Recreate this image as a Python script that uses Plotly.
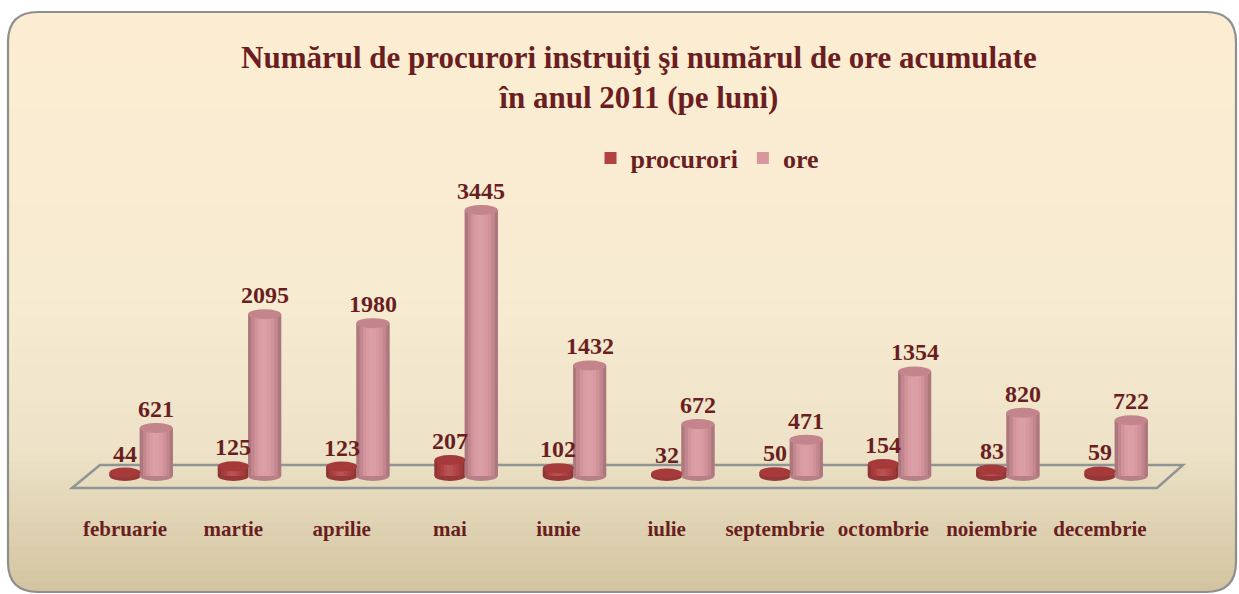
import plotly.graph_objects as go

# ---------------- data ----------------
months = ["februarie", "martie", "aprilie", "mai", "iunie", "iulie",
          "septembrie", "octombrie", "noiembrie", "decembrie"]
procurori = [44, 125, 123, 207, 102, 32, 50, 154, 83, 59]
ore = [621, 2095, 1980, 3445, 1432, 672, 471, 1354, 820, 722]

TITLE = "Numărul de procurori instruiţi şi numărul de ore acumulate<br>în anul 2011 (pe luni)"
TEXT_COLOR = "#6B1E22"
FONT = "Liberation Serif"

# ---------------- geometry (styling) ----------------
W, H = 1239, 594
L_M, R_M, T_M, B_M = 40, 39, 140, 94
PW, PH = W - L_M - R_M, H - T_M - B_M
PX_PER_CAT = 108.33
X0_PX = 125
BASE_PX = 476
K = 0.0772  # px per value unit
x_range = [(L_M - X0_PX) / PX_PER_CAT, (W - R_M - X0_PX) / PX_PER_CAT]
y_range = [(BASE_PX - (H - B_M)) / K, (BASE_PX - T_M) / K]
CAP = 5 / K  # half height of ellipse caps in value units


def pp(x, y):
    """pixel -> paper coords"""
    return (x - L_M) / PW, (H - B_M - y) / PH


def mix(c, f):
    r, g, b = c
    if f >= 1:
        t = f - 1
        return "rgb(%d,%d,%d)" % (r + (255 - r) * t, g + (255 - g) * t, b + (255 - b) * t)
    return "rgb(%d,%d,%d)" % (r * f, g * f, b * f)


series = [
    dict(name="procurori", vals=procurori, off=-0.143, w=0.286,
         base=(178, 66, 66), cap=(166, 58, 58)),
    dict(name="ore", vals=ore, off=0.136, w=0.305,
         base=(216, 150, 158), cap=(196, 132, 140)),
]
shade = [0.80, 0.90, 0.98, 1.06, 1.10, 1.08, 1.03, 0.97, 0.90, 0.80]

xs = list(range(len(months)))
fig = go.Figure()
shapes = []

# background gradient bands
stops = [(12, (253, 238, 210)), (300, (247, 235, 210)), (450, (238, 227, 200)), (594, (211, 196, 160))]
BL, BT, BR, BB, RAD = 8, 12, 1236, 592, 30


def bg_col(y):
    for (y0, c0), (y1, c1) in zip(stops[:-1], stops[1:]):
        if y0 <= y <= y1:
            t = (y - y0) / (y1 - y0)
            return "rgb(%d,%d,%d)" % tuple(c0[i] + (c1[i] - c0[i]) * t for i in range(3))
    return "rgb(%d,%d,%d)" % stops[-1][1]


step = 6
y = BT
while y < BB:
    x0, y0 = pp(BL, y)
    x1, y1 = pp(BR, min(y + step + 1, BB))
    shapes.append(dict(type="rect", xref="paper", yref="paper", x0=x0, x1=x1, y0=y0, y1=y1,
                       fillcolor=bg_col(y + step / 2), line=dict(width=0), layer="below"))
    y += step


def path_px(points_cmds):
    out = []
    for cmd, pts in points_cmds:
        coords = []
        for (a, b) in pts:
            xa, yb = pp(a, b)
            coords.append("%.5f,%.5f" % (xa, yb))
        out.append(cmd + " ".join(coords))
    return " ".join(out)


# white corner masks
corners = [
    [("M", [(BL - 2, BT - 2)]), ("L", [(BL + RAD, BT - 2)]), ("L", [(BL + RAD, BT)]), ("Q", [(BL, BT), (BL, BT + RAD)]), ("L", [(BL - 2, BT + RAD)]), ("Z", [])],
    [("M", [(BR + 2, BT - 2)]), ("L", [(BR - RAD, BT - 2)]), ("L", [(BR - RAD, BT)]), ("Q", [(BR, BT), (BR, BT + RAD)]), ("L", [(BR + 2, BT + RAD)]), ("Z", [])],
    [("M", [(BL - 2, BB + 2)]), ("L", [(BL + RAD, BB + 2)]), ("L", [(BL + RAD, BB)]), ("Q", [(BL, BB), (BL, BB - RAD)]), ("L", [(BL - 2, BB - RAD)]), ("Z", [])],
    [("M", [(BR + 2, BB + 2)]), ("L", [(BR - RAD, BB + 2)]), ("L", [(BR - RAD, BB)]), ("Q", [(BR, BB), (BR, BB - RAD)]), ("L", [(BR + 2, BB - RAD)]), ("Z", [])],
]
for c in corners:
    shapes.append(dict(type="path", xref="paper", yref="paper", path=path_px(c),
                       fillcolor="white", line=dict(width=0), layer="below"))

# rounded border
border = [("M", [(BL + RAD, BT)]), ("L", [(BR - RAD, BT)]), ("Q", [(BR, BT), (BR, BT + RAD)]),
          ("L", [(BR, BB - RAD)]), ("Q", [(BR, BB), (BR - RAD, BB)]),
          ("L", [(BL + RAD, BB)]), ("Q", [(BL, BB), (BL, BB - RAD)]),
          ("L", [(BL, BT + RAD)]), ("Q", [(BL, BT), (BL + RAD, BT)])]
shapes.append(dict(type="path", xref="paper", yref="paper", path=path_px(border),
                   line=dict(color="#8E8E8E", width=2.2), layer="below"))

# floor plane
floor = [("M", [(72, 488)]), ("L", [(1157, 488)]), ("L", [(1183, 465)]), ("L", [(100, 465)]), ("Z", [])]
shapes.append(dict(type="path", xref="paper", yref="paper", path=path_px(floor),
                   line=dict(color="#8F9494", width=2.5), layer="below"))

# bars (cylinders)
for s in series:
    fig.add_trace(go.Bar(x=xs, y=s["vals"], base=0, offset=s["off"], width=s["w"],
                         name=s["name"], marker=dict(color=mix(s["base"], 1.0), line=dict(width=0)),
                         hoverinfo="y+name"))
    n = len(shade)
    sw = s["w"] / n
    for j, f in enumerate(shade):
        fig.add_trace(go.Bar(x=xs, y=s["vals"], base=0, offset=s["off"] + j * sw, width=sw * 1.05,
                             marker=dict(color=mix(s["base"], f), line=dict(width=0)),
                             showlegend=False, hoverinfo="skip"))
    for i, v in enumerate(s["vals"]):
        x0 = i + s["off"]
        x1 = x0 + s["w"]
        shapes.append(dict(type="circle", xref="x", yref="y", x0=x0, x1=x1, y0=-CAP, y1=CAP,
                           fillcolor=mix(s["base"], 0.85), line=dict(width=0), layer="below"))
        shapes.append(dict(type="circle", xref="x", yref="y", x0=x0, x1=x1, y0=v - CAP, y1=v + CAP,
                           fillcolor=mix(s["cap"], 1.0), line=dict(width=0)))

# value labels
annotations = []
for s in series:
    for i, v in enumerate(s["vals"]):
        annotations.append(dict(x=i + s["off"] + s["w"] / 2, y=v, xref="x", yref="y",
                                text="<b>%d</b>" % v, showarrow=False, yanchor="bottom", yshift=4,
                                font=dict(family=FONT, size=24, color=TEXT_COLOR)))

tx, ty = pp(639, 78)
annotations.append(dict(x=tx, y=ty, xref="paper", yref="paper", text="<b>" + TITLE + "</b>",
                        showarrow=False, xanchor="center", yanchor="middle",
                        font=dict(family=FONT, size=31, color=TEXT_COLOR)))

lx, ly = pp(707, 158)
fig.update_layout(
    width=W, height=H,
    margin=dict(l=L_M, r=R_M, t=T_M, b=B_M),
    paper_bgcolor="white", plot_bgcolor="rgba(0,0,0,0)",
    barmode="overlay",
    shapes=shapes, annotations=annotations,
    showlegend=True,
    legend=dict(orientation="h", x=lx, y=ly, xanchor="center", yanchor="middle",
                bgcolor="rgba(0,0,0,0)",
                font=dict(family=FONT, size=26, color=TEXT_COLOR, weight="bold")),
    xaxis=dict(range=x_range, tickvals=xs, ticktext=months, showgrid=False, zeroline=False,
               showline=False, ticks="", ticklabelstandoff=14,
               tickfont=dict(family=FONT, size=21, color=TEXT_COLOR, weight="bold")),
    yaxis=dict(range=y_range, visible=False, showgrid=False, zeroline=False),
)

fig.write_html("out.html", config={"displayModeBar": False},
               post_script="document.body.style.margin='0';document.body.style.overflow='hidden';")
